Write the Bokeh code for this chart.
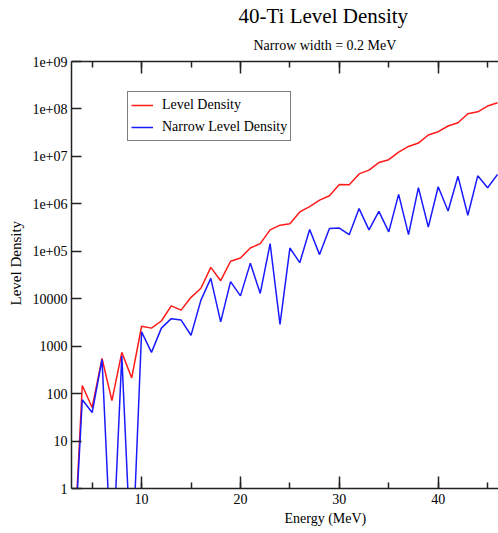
from bokeh.plotting import figure
from bokeh.models import Title, LinearAxis, FixedTicker, SingleIntervalTicker
from bokeh.embed import file_html
from bokeh.resources import INLINE

# ---- data ----
energy = [3, 4, 5, 6, 7, 8, 9, 10, 11, 12, 13, 14, 15, 16, 17, 18, 19, 20,
          21, 22, 23, 24, 25, 26, 27, 28, 29, 30, 31, 32, 33, 34, 35, 36, 37,
          38, 39, 40, 41, 42, 43, 44, 45, 46]
level_density = [0.01, 148, 51, 550, 71, 740, 214, 2630, 2400, 3390, 7080,
                 5750, 10700, 16600, 45700, 24000, 61700, 72400, 117000,
                 145000, 282000, 355000, 380000, 676000, 871000, 1.2e6,
                 1.48e6, 2.57e6, 2.51e6, 4.27e6, 5.13e6, 7.41e6, 8.51e6,
                 1.23e7, 1.62e7, 1.91e7, 2.82e7, 3.31e7, 4.37e7, 5.13e7,
                 7.94e7, 8.71e7, 1.15e8, 1.35e8]
narrow_density = [0.01, 74, 40, 525, 0.015, 617, 0.015, 2000, 740, 2400, 3800,
                  3550, 1700, 9330, 26900, 3240, 22900, 11500, 56200, 12900,
                  145000, 2880, 117000, 57500, 288000, 85100, 302000, 309000,
                  224000, 794000, 282000, 692000, 257000, 1.58e6, 224000,
                  2.19e6, 324000, 2.29e6, 708000, 3.8e6, 575000, 3.89e6,
                  2.19e6, 4.17e6]
y_ticks = [1, 10, 100, 1000, 10000, 1e5, 1e6, 1e7, 1e8, 1e9]
y_tick_labels = ["1", "10", "100", "1000", "10000", "1e+05", "1e+06",
                 "1e+07", "1e+08", "1e+09"]

FONT = "Liberation Serif"
AXIS_COLOR = "#222222"

p = figure(width=498, height=533, x_range=(2.91, 46.1), y_range=(1, 1e9),
           y_axis_type="log", output_backend="svg", toolbar_location=None,
           min_border_left=71, min_border_right=0, min_border_top=61,
           min_border_bottom=45)
p.outline_line_color = None
p.xgrid.visible = False
p.ygrid.visible = False
p.background_fill_color = "white"

p.line(energy, level_density, line_color="#ff1a1a", line_width=1.5,
       legend_label="Level Density")
p.line(energy, narrow_density, line_color="#1a1aff", line_width=1.5,
       legend_label="Narrow Level Density")

# bottom axis
xa = p.xaxis[0]
xa.ticker = SingleIntervalTicker(interval=10, num_minor_ticks=2)
xa.major_tick_in = 12
xa.major_tick_out = 0
xa.minor_tick_in = 6
xa.minor_tick_out = 0
xa.axis_line_color = AXIS_COLOR
xa.axis_line_width = 1.5
xa.major_tick_line_color = AXIS_COLOR
xa.major_tick_line_width = 1.5
xa.minor_tick_line_color = AXIS_COLOR
xa.minor_tick_line_width = 1.5
xa.major_label_text_font = FONT
xa.major_label_text_font_size = "14px"
xa.major_label_text_color = "black"
xa.major_label_standoff = 5

# top axis (ticks only, labels not drawn)
ta = LinearAxis(ticker=SingleIntervalTicker(interval=10, num_minor_ticks=2))
ta.major_tick_in = 12
ta.major_tick_out = 0
ta.minor_tick_in = 6
ta.minor_tick_out = 0
ta.axis_line_color = AXIS_COLOR
ta.axis_line_width = 1.5
ta.major_tick_line_color = AXIS_COLOR
ta.major_tick_line_width = 1.5
ta.minor_tick_line_color = AXIS_COLOR
ta.minor_tick_line_width = 1.5
ta.major_label_text_color = None
ta.major_label_text_font_size = "1px"
ta.major_label_standoff = 0
p.add_layout(ta, "above")

# left axis
ya = p.yaxis[0]
ya.ticker = FixedTicker(ticks=y_ticks)
ya.major_label_overrides = dict(zip(y_ticks, y_tick_labels))
ya.major_tick_in = 10
ya.major_tick_out = 0
ya.minor_tick_line_color = None
ya.axis_line_color = AXIS_COLOR
ya.axis_line_width = 1.5
ya.major_tick_line_color = AXIS_COLOR
ya.major_tick_line_width = 1.5
ya.major_label_text_font = FONT
ya.major_label_text_font_size = "14px"
ya.major_label_text_color = "black"
ya.major_label_standoff = 4

ylab = Title(text="Level Density", align="left", offset=183,
             text_font=FONT, text_font_size="15px", text_font_style="normal",
             text_color="black", standoff=11)
p.add_layout(ylab, "left")

# titles
sub = Title(text="Narrow width = 0.2 MeV", align="left", offset=182,
            text_font=FONT, text_font_size="14px", text_font_style="normal",
            text_color="black", standoff=17)
p.add_layout(sub, "above")
main = Title(text="40-Ti Level Density", align="left", offset=167,
             text_font=FONT, text_font_size="21px", text_font_style="normal",
             text_color="black", standoff=0)
p.add_layout(main, "above")

xl = Title(text="Energy (MeV)", align="left", offset=213,
           text_font=FONT, text_font_size="14px", text_font_style="normal",
           text_color="black", standoff=5)
p.add_layout(xl, "below")

# legend
lg = p.legend[0]
lg.location = (56, 347)
lg.border_line_color = "black"
lg.border_line_width = 1.5
lg.background_fill_color = "white"
lg.background_fill_alpha = 1
lg.label_text_font = FONT
lg.label_text_font_size = "14px"
lg.label_text_color = "black"
lg.glyph_width = 22
lg.glyph_height = 20
lg.label_height = 20
lg.label_standoff = 9
lg.spacing = 2
lg.padding = 3
lg.margin = 0

open("out.html", "w").write(file_html(p, INLINE))
